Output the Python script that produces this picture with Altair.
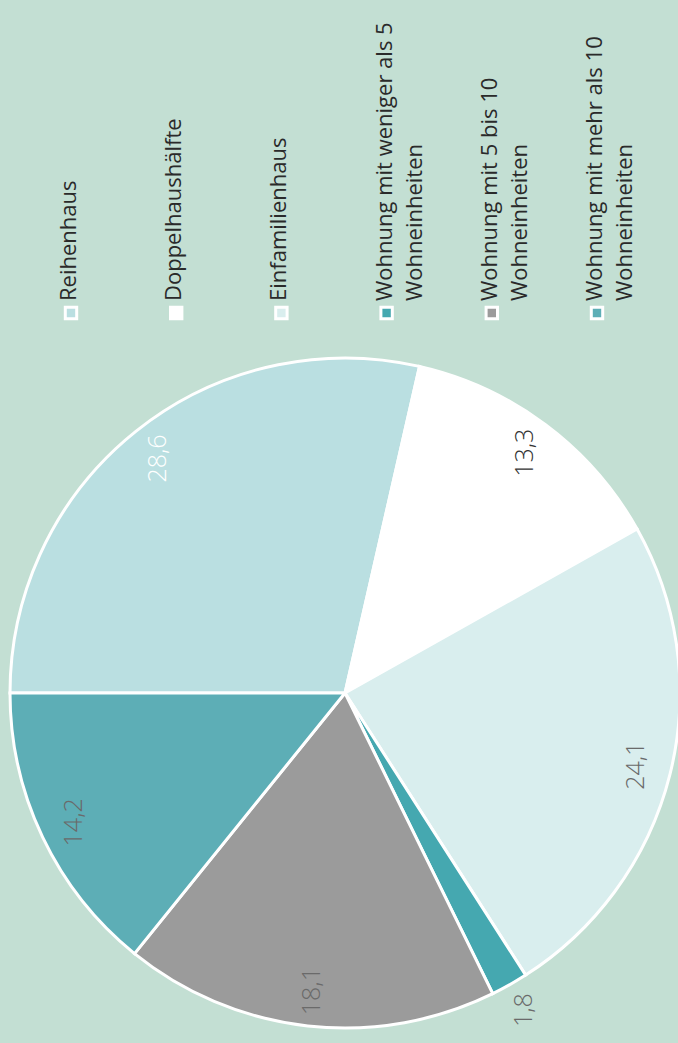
import math
import altair as alt
import pandas as pd

# ---- data ----
categories = [
    "Reihenhaus",
    "Doppelhaushälfte",
    "Einfamilienhaus",
    "Wohnung mit weniger als 5 Wohneinheiten",
    "Wohnung mit 5 bis 10 Wohneinheiten",
    "Wohnung mit mehr als 10 Wohneinheiten",
]
legend_labels = [
    "Reihenhaus",
    "Doppelhaushälfte",
    "Einfamilienhaus",
    "Wohnung mit weniger als 5\nWohneinheiten",
    "Wohnung mit 5 bis 10\nWohneinheiten",
    "Wohnung mit mehr als 10\nWohneinheiten",
]
values = [28.6, 13.3, 24.1, 1.8, 18.1, 14.2]

# ---- styles ----
slice_colors = ["#badfe1", "#ffffff", "#d9eeee", "#45a8b0", "#9b9b9b", "#5daeb6"]
label_colors = {
    "Reihenhaus": "#ffffff",
    "Doppelhaushälfte": "#333333",
    "Einfamilienhaus": "#6a6a6a",
    "Wohnung mit weniger als 5 Wohneinheiten": "#6a6a6a",
    "Wohnung mit 5 bis 10 Wohneinheiten": "#6a6a6a",
    "Wohnung mit mehr als 10 Wohneinheiten": "#6a6a6a",
}
outside = {"Wohnung mit weniger als 5 Wohneinheiten"}
BG = "#c3dfd3"
FONT = "Open Sans"

df = pd.DataFrame({
    "name": categories,
    "value": values,
    "legend": legend_labels,
    "label": [f"{v:.1f}".replace(".", ",") for v in values],
    "ord": list(range(len(categories))),
})
df["lc"] = df["name"].map(label_colors)
df["out"] = df["name"].isin(outside)

W, H = 678, 1043
CX, CY, R = 345, 693, 335
start = 1.5 * math.pi

theta = alt.Theta("value:Q", stack=True,
                  scale=alt.Scale(range=[start, start + 2 * math.pi]))
color = alt.Color("name:N", scale=alt.Scale(domain=categories, range=slice_colors),
                  legend=None)
order = alt.Order("ord:Q", sort="ascending")

base = alt.Chart(df)

pie = base.mark_arc(stroke="white", strokeWidth=3, radius=R).encode(
    theta=theta, color=color, order=order,
    x=alt.value(CX), y=alt.value(CY),
)

lab_in = base.mark_text(
    angle=270, font=FONT, fontSize=25, fontWeight=300, radius=300,
    align="center", baseline="middle",
).encode(
    theta=theta, order=order,
    text=alt.condition("!datum.out", alt.Text("label:N"), alt.value("")),
    color=alt.Color("lc:N", scale=None),
    x=alt.value(CX), y=alt.value(CY),
)

lab_out = base.mark_text(
    angle=270, font=FONT, fontSize=25, fontWeight=300, radius=364,
    align="center", baseline="middle",
).encode(
    theta=theta, order=order,
    text=alt.condition("datum.out", alt.Text("label:N"), alt.value("")),
    color=alt.Color("lc:N", scale=None),
    x=alt.value(CX), y=alt.value(CY),
)

lx = alt.X("name:N", scale=alt.Scale(domain=categories, range=[71, 597], padding=0),
           axis=None)

leg_sq = base.mark_square(size=130, stroke="white", strokeWidth=3, opacity=1).encode(
    x=lx, y=alt.value(313), color=color,
)

leg_txt = base.mark_text(
    angle=270, font=FONT, fontSize=22, fontWeight=400, align="left",
    baseline="top", lineBreak="\n", lineHeight=30, color="#2a2a2a", dy=-12,
).encode(
    x=lx, y=alt.value(301), text="legend:N",
)

chart = alt.layer(pie, lab_in, lab_out, leg_sq, leg_txt).properties(
    width=W, height=H, background=BG, padding=0,
    autosize=alt.AutoSizeParams(type="none"),
).configure_view(stroke=None)

chart.save("out.html", embed_options={"renderer": "svg", "actions": False})
